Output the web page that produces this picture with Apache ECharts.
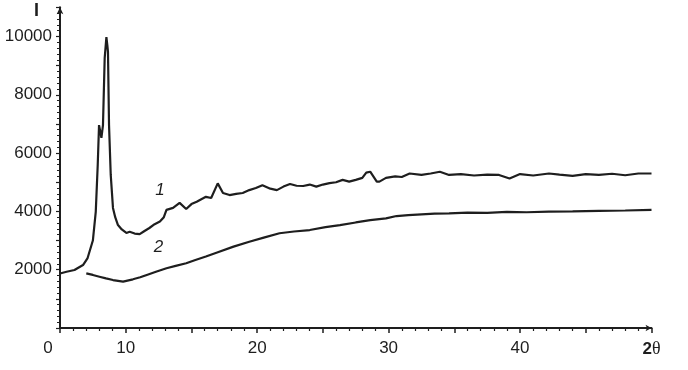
<!DOCTYPE html>
<html>
<head>
<meta charset="utf-8">
<script src="https://cdn.jsdelivr.net/npm/echarts@6/dist/echarts.min.js"></script>
<style>html,body{margin:0;padding:0;background:#fff}#c{width:688px;height:370px}</style>
</head>
<body>
<div id="c"></div>
<script>
// Curve 1 (2θ, I)
var x1 = [5.0, 5.5, 6.1, 6.75, 7.1, 7.5, 7.72, 7.87, 7.97, 8.08, 8.15, 8.27, 8.4, 8.53, 8.6, 8.65, 8.73, 8.86, 9.03, 9.2, 9.41, 9.7, 10.05, 10.3, 10.68, 11.06, 11.4, 11.8, 12.2, 12.6, 12.9, 13.1, 13.6, 14.1, 14.6, 15.0, 15.4, 16.1, 16.5, 17.0, 17.4, 17.9, 18.4, 18.9, 19.4, 19.9, 20.4, 21.0, 21.5, 22.0, 22.5, 23.0, 23.5, 24.0, 24.5, 25.0, 25.5, 26.0, 26.5, 27.0, 27.5, 28.0, 28.3, 28.6, 29.1, 29.3, 29.8, 30.5, 31.0, 31.6, 32.5, 33.2, 33.9, 34.6, 35.5, 36.5, 37.5, 38.4, 39.2, 40, 41, 42.2, 43, 44, 45, 46, 47, 48, 49, 50];
var y1 = [1870, 1930, 1990, 2160, 2400, 3000, 3980, 5590, 6960, 6700, 6520, 6960, 9260, 9980, 9700, 9470, 6960, 5250, 4120, 3800, 3530, 3380, 3260, 3300, 3240, 3220, 3320, 3430, 3560, 3650, 3800, 4050, 4120, 4290, 4080, 4250, 4330, 4500, 4460, 4960, 4630, 4560, 4600, 4630, 4730, 4800, 4900, 4780, 4730, 4850, 4940, 4880, 4870, 4920, 4850, 4920, 4970, 5000, 5080, 5020, 5080, 5150, 5330, 5360, 5020, 5020, 5150, 5200, 5180, 5300, 5250, 5300, 5360, 5250, 5280, 5230, 5260, 5250, 5130, 5280, 5230, 5300, 5260, 5220, 5280, 5250, 5290, 5240, 5300, 5300];
// Curve 2
var x2 = [7.0, 7.5, 8.0, 8.5, 9.03, 9.8, 10.55, 11.1, 11.6, 12.3, 13.1, 13.8, 14.6, 15.3, 16.1, 16.9, 18.2, 19.4, 20.5, 21.7, 22.8, 24.0, 25.2, 26.3, 27.5, 28.6, 29.8, 30.6, 31.5, 32.5, 33.5, 34.6, 36, 37.5, 39, 40.5, 42.2, 44, 46, 48, 50];
var y2 = [1875, 1820, 1760, 1700, 1645, 1590, 1670, 1740, 1820, 1930, 2050, 2130, 2220, 2330, 2450, 2580, 2790, 2960, 3100, 3250, 3310, 3360, 3460, 3530, 3620, 3700, 3760, 3840, 3870, 3900, 3920, 3930, 3960, 3950, 3980, 3970, 3990, 4000, 4020, 4030, 4050];
// curve labels: [name, x, y]
var curveLabels = [['1', 12.6, 4730], ['2', 12.5, 2780]];
var yTickLabels = [2000, 4000, 6000, 8000, 10000];
var xTickLabels = [10, 20, 30, 40];

function pairs(xs, ys) { return xs.map(function (x, i) { return [x, ys[i]]; }); }
var ink = '#1e1e1e';
var font = 'Liberation Sans, Arial, sans-serif';

var chart = echarts.init(document.getElementById('c'));
chart.setOption({
  animation: false,
  backgroundColor: '#fff',
  grid: { left: 60, right: 36.5, top: 7.3, bottom: 42 },
  xAxis: {
    type: 'value', min: 5, max: 50, interval: 5,
    axisLine: { lineStyle: { color: ink, width: 2 }, symbol: ['none', 'arrow'], symbolSize: [5, 6] },
    axisTick: { show: true, length: 5, lineStyle: { color: ink, width: 1.5 } },
    minorTick: { show: true, splitNumber: 5, length: 3, lineStyle: { color: ink, width: 1.2 } },
    splitLine: { show: false },
    axisLabel: {
      margin: 12, fontSize: 17, color: ink, fontFamily: font,
      formatter: function (v) {
        if (v === 5) return '{z|0}';
        if (v === 50) return '{b|2}{t|θ}';
        return xTickLabels.indexOf(v) >= 0 ? String(v) : '';
      },
      rich: {
        z: { fontSize: 17, color: ink, fontFamily: font, padding: [0, 24, 0, 0] },
        b: { fontSize: 17, color: ink, fontFamily: font, fontWeight: 'bold' },
        t: { fontSize: 18, color: ink, fontFamily: 'Liberation Serif, serif' }
      }
    }
  },
  yAxis: {
    type: 'value', min: 0, max: 11000, interval: 1000,
    axisLine: { show: true, lineStyle: { color: ink, width: 2 }, symbol: ['none', 'arrow'], symbolSize: [5, 7] },
    axisTick: { show: true, length: 4, lineStyle: { color: ink, width: 1.2 } },
    minorTick: { show: true, splitNumber: 5, length: 3, lineStyle: { color: ink, width: 1 } },
    splitLine: { show: false },
    axisLabel: {
      margin: 8, fontSize: 17, color: ink, fontFamily: font,
      formatter: function (v) { return yTickLabels.indexOf(v) >= 0 ? String(v) : ''; }
    }
  },
  graphic: [{
    type: 'text', left: 34, top: 2,
    style: { text: 'I', fontSize: 18, fontWeight: 'bold', fill: ink, fontFamily: font }
  }],
  series: [{
    type: 'line', data: pairs(x1, y1), showSymbol: false, smooth: false,
    lineStyle: { color: ink, width: 2.2 },
    markPoint: {
      symbol: 'circle', symbolSize: 1,
      itemStyle: { color: 'rgba(0,0,0,0)' },
      label: { show: true, position: 'inside', fontSize: 17, fontStyle: 'italic', color: ink, fontFamily: font, formatter: '{b}' },
      data: curveLabels.map(function (c) { return { name: c[0], coord: [c[1], c[2]] }; })
    }
  }, {
    type: 'line', data: pairs(x2, y2), showSymbol: false,
    lineStyle: { color: ink, width: 2.2 }
  }]
});
</script>
</body>
</html>
